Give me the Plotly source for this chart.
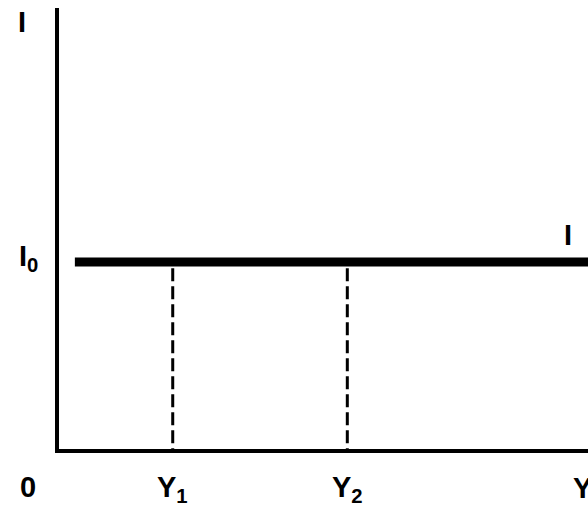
import plotly.graph_objects as go

# ── Data (model units; x = income Y, y = investment I) ───────────────────────
X_MAX, Y_MAX = 10.0, 10.0
I0_LEVEL = 4.24
LINE_X = [0.3, X_MAX]
Y_MARKS = [2.15, 5.45]
Y_LABELS = ["Y<sub>1</sub>", "Y<sub>2</sub>"]

INK = "#000000"
FONT = dict(family="Liberation Sans, Arial, sans-serif", size=29, color=INK)

fig = go.Figure()

# Flat investment schedule I = I0
fig.add_trace(go.Scatter(
    x=LINE_X, y=[I0_LEVEL, I0_LEVEL], mode="lines",
    line=dict(color=INK, width=9), hoverinfo="skip"
))

# Dashed drops from the schedule to the Y axis
for xv in Y_MARKS:
    fig.add_trace(go.Scatter(
        x=[xv, xv], y=[I0_LEVEL - 0.14, 0], mode="lines",
        line=dict(color=INK, width=3, dash="13px,5px"), hoverinfo="skip"
    ))

annotations = []
for xv, lab in zip(Y_MARKS, Y_LABELS):
    annotations.append(dict(x=xv, y=0, xref="x", yref="y", text=f"<b>{lab}</b>",
                            showarrow=False, yshift=-40, font=FONT))
annotations += [
    dict(x=9.9, y=0, xref="x", yref="y", text="<b>Y</b>", showarrow=False,
         yshift=-39, font=FONT),
    dict(x=0, y=0, xref="x", yref="y", text="<b>0</b>", showarrow=False,
         xshift=-31, yshift=-38, font=FONT),
    dict(x=0, y=9.68, xref="x", yref="y", text="<b>I</b>", showarrow=False,
         xshift=-37, font=FONT),
    dict(x=0, y=I0_LEVEL, xref="x", yref="y", text="<b>I<sub>0</sub></b>",
         showarrow=False, xshift=-31, yshift=4, font=FONT),
    dict(x=9.62, y=I0_LEVEL, xref="x", yref="y", text="<b>I</b>", showarrow=False,
         yshift=27, font=FONT),
]

axis_common = dict(showgrid=False, zeroline=False, showticklabels=False,
                   ticks="", showline=True, linecolor=INK, linewidth=4, mirror=False)

fig.update_layout(
    width=588, height=506,
    margin=dict(l=59, r=0, t=8, b=57),
    paper_bgcolor="white", plot_bgcolor="white",
    showlegend=False,
    xaxis=dict(range=[0, X_MAX], **axis_common),
    yaxis=dict(range=[0, Y_MAX], **axis_common),
    annotations=annotations,
)

# drop the default 8px body margin so the figure fills the window exactly
fig.write_html("out.html", config={"displayModeBar": False},
               post_script="document.body.style.margin='0';document.body.style.overflow='hidden';")
